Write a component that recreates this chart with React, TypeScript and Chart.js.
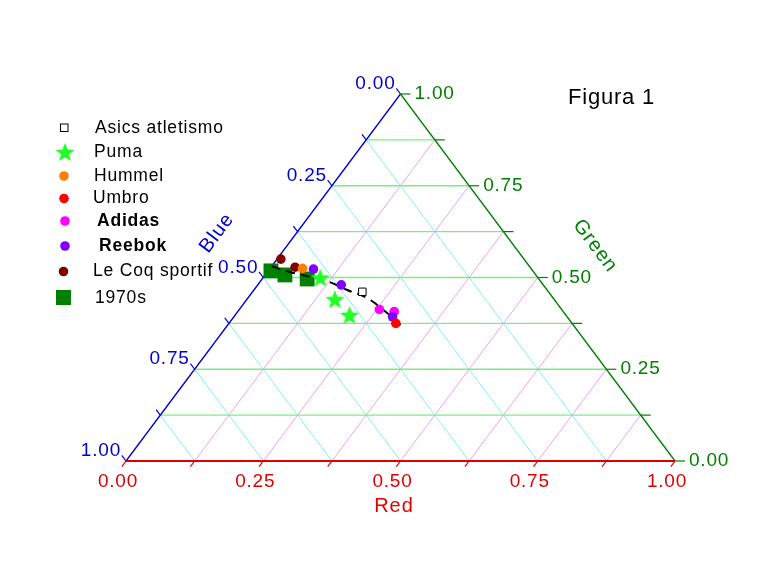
import React, { useEffect, useRef } from "react";
import { Chart, registerables } from "chart.js";

Chart.register(...registerables);

// Ternary values: [Red, Green, Blue]
type Tern = [number, number, number];

const asics: Tern[] = [[0.2, 0.461, 0.339]];
const puma: Tern[] = [
  [0.104, 0.5, 0.396],
  [0.16, 0.441, 0.399],
  [0.208, 0.398, 0.394],
];
const hummel: Tern[] = [[0.059, 0.525, 0.416]];
const umbro: Tern[] = [[0.304, 0.375, 0.321]];
const adidas: Tern[] = [
  [0.255, 0.413, 0.332],
  [0.285, 0.407, 0.308],
];
const reebok: Tern[] = [
  [0.08, 0.523, 0.397],
  [0.152, 0.48, 0.368],
  [0.289, 0.393, 0.318],
];
const leCoq: Tern[] = [
  [0.007, 0.55, 0.443],
  [0.044, 0.528, 0.428],
];
const seventies: Tern[] = [
  [0.005, 0.518, 0.477],
  [0.036, 0.507, 0.457],
  [0.082, 0.496, 0.422],
];
const trend: Tern[] = [
  [0.0, 0.531, 0.469],
  [0.041, 0.515, 0.444],
  [0.121, 0.49, 0.389],
  [0.17, 0.466, 0.364],
  [0.217, 0.444, 0.339],
  [0.264, 0.411, 0.325],
  [0.322, 0.365, 0.313],
];

const majorTicks = [0, 0.25, 0.5, 0.75, 1];
const majorLabels = ["0.00", "0.25", "0.50", "0.75", "1.00"];
const gridSteps = [0.125, 0.25, 0.375, 0.5, 0.625, 0.75, 0.875];
const allTicks = [0, 0.125, 0.25, 0.375, 0.5, 0.625, 0.75, 0.875, 1];

const legendNames = [
  "Asics atletismo",
  "Puma",
  "Hummel",
  "Umbro",
  "Adidas",
  "Reebok",
  "Le Coq sportif",
  "1970s",
];

const C_BLUE = "#0000cc";
const C_GREEN = "#007f00";
const C_RED = "#e00000";
const C_STAR = "#22ff22";

const toXY = (t: Tern) => {
  const s = t[0] + t[1] + t[2];
  const r = t[0] / s;
  const g = t[1] / s;
  return { x: r + g / 2, y: g };
};

function makeStar(R: number, color: string) {
  const c = document.createElement("canvas");
  const size = Math.ceil(R * 2 + 2);
  c.width = size;
  c.height = size;
  const ctx = c.getContext("2d")!;
  const cx = size / 2;
  const cy = size / 2 + R * 0.1;
  const r = R * 0.42;
  ctx.beginPath();
  for (let i = 0; i < 10; i++) {
    const a = -Math.PI / 2 + (i * Math.PI) / 5;
    const rr = i % 2 === 0 ? R : r;
    const x = cx + rr * Math.cos(a);
    const y = cy + rr * Math.sin(a);
    if (i === 0) ctx.moveTo(x, y);
    else ctx.lineTo(x, y);
  }
  ctx.closePath();
  ctx.fillStyle = color;
  ctx.fill();
  return c;
}

export default function App() {
  const ref = useRef<HTMLCanvasElement | null>(null);

  useEffect(() => {
    document.body.style.margin = "0";
    const canvas = ref.current;
    if (!canvas) return;
    const star = makeStar(10, C_STAR);

    const ternPlugin = {
      id: "ternary",
      beforeDatasetsDraw(chart: any) {
        const ctx: CanvasRenderingContext2D = chart.ctx;
        const xs = chart.scales.x;
        const ys = chart.scales.y;
        const P = (r: number, g: number, b: number) => {
          const p = toXY([r, g, b]);
          return [xs.getPixelForValue(p.x), ys.getPixelForValue(p.y)];
        };
        const line = (a: number[], b: number[], color: string, w: number) => {
          ctx.beginPath();
          ctx.moveTo(a[0], a[1]);
          ctx.lineTo(b[0], b[1]);
          ctx.strokeStyle = color;
          ctx.lineWidth = w;
          ctx.stroke();
        };
        const unit = (a: number[], b: number[]) => {
          const L = Math.hypot(b[0] - a[0], b[1] - a[1]);
          return [(b[0] - a[0]) / L, (b[1] - a[1]) / L];
        };
        ctx.save();
        // grid
        for (const f of gridSteps) {
          line(P(f, 0, 1 - f), P(f, 1 - f, 0), "#eea0f6", 1); // constant Red
          line(P(0, 1 - f, f), P(1 - f, 0, f), "#80f0f0", 1); // constant Blue
        }
        for (const f of gridSteps) {
          line(P(0, f, 1 - f), P(1 - f, f, 0), "#80ec80", 1.3); // constant Green
        }
        // axes
        line(P(0, 1, 0), P(0, 0, 1), C_BLUE, 1.3);
        line(P(0, 1, 0), P(1, 0, 0), C_GREEN, 1.3);
        line(P(0, 0, 1), P(1, 0, 0), C_RED, 2);

        // tick directions
        const dR = unit(P(0.5, 0.5, 0), P(0.5, 0, 0.5)); // down along constant-red
        const dB = unit(P(0.5, 0, 0.5), P(0, 0.5, 0.5)); // up-left along constant-blue
        for (const f of allTicks) {
          const rb = P(f, 0, 1 - f);
          line(rb, [rb[0] + dR[0] * 7, rb[1] + dR[1] * 7], C_RED, 1.2);
          const bl = P(0, 1 - f, f);
          line(bl, [bl[0] + dB[0] * 7, bl[1] + dB[1] * 7], C_BLUE, 1.2);
          const gr = P(1 - f, f, 0);
          line(gr, [gr[0] + 10, gr[1]], C_GREEN, 1.2);
        }

        // tick labels
        ctx.font = "19px 'Liberation Sans', Arial, sans-serif";
        (ctx as any).letterSpacing = "0.8px";
        ctx.textBaseline = "middle";
        majorTicks.forEach((f, i) => {
          const lab = majorLabels[i];
          const rb = P(f, 0, 1 - f);
          ctx.fillStyle = C_RED;
          ctx.textAlign = "center";
          ctx.fillText(lab, rb[0] - 8, 482);
          const bl = P(0, 1 - f, f);
          ctx.fillStyle = C_BLUE;
          ctx.textAlign = "right";
          ctx.fillText(lab, bl[0] - 5, bl[1] - 10);
          const gr = P(1 - f, f, 0);
          ctx.fillStyle = C_GREEN;
          ctx.textAlign = "left";
          ctx.fillText(lab, gr[0] + 14, gr[1]);
        });

        // axis titles
        const ang = Math.atan2(367, 274.5);
        ctx.font = "20px 'Liberation Sans', Arial, sans-serif";
        (ctx as any).letterSpacing = "1px";
        ctx.textAlign = "center";
        ctx.fillStyle = C_RED;
        ctx.fillText("Red", 394, 506);
        ctx.save();
        ctx.translate(217, 233);
        ctx.rotate(-ang);
        ctx.fillStyle = C_BLUE;
        ctx.fillText("Blue", 0, 0);
        ctx.restore();
        ctx.save();
        ctx.translate(595, 246);
        ctx.rotate(ang);
        ctx.fillStyle = C_GREEN;
        ctx.fillText("Green", 0, 0);
        ctx.restore();

        // title
        ctx.font = "22px 'Liberation Sans', Arial, sans-serif";
        (ctx as any).letterSpacing = "0.8px";
        ctx.textAlign = "left";
        ctx.fillStyle = "#000";
        ctx.fillText("Figura 1", 568, 98);
        ctx.restore();
      },
      afterDraw(chart: any) {
        const ctx: CanvasRenderingContext2D = chart.ctx;
        ctx.save();
        const rows = [
          { y: 128, tx: 95, bold: false },
          { y: 152, tx: 94, bold: false },
          { y: 176.5, tx: 94, bold: false },
          { y: 198.5, tx: 93, bold: false },
          { y: 221.5, tx: 97, bold: true },
          { y: 246, tx: 99, bold: true },
          { y: 271.5, tx: 93, bold: false },
          { y: 298, tx: 95, bold: false },
        ];
        const circ = (x: number, y: number, r: number, c: string) => {
          ctx.beginPath();
          ctx.arc(x, y, r, 0, Math.PI * 2);
          ctx.fillStyle = c;
          ctx.fill();
        };
        // markers
        ctx.fillStyle = "#fff";
        ctx.fillRect(60, 123.5, 8, 8);
        ctx.strokeStyle = "#000";
        ctx.lineWidth = 1;
        ctx.strokeRect(60.5, 124, 7.5, 7.5);
        ctx.drawImage(star, 65 - star.width / 2, 152 - star.height / 2);
        circ(64, 176, 4.8, "#ff8000");
        circ(64, 198.5, 4.8, "#ff0000");
        circ(65, 221, 4.8, "#ff00ff");
        circ(65, 246, 4.8, "#8000ff");
        circ(63.5, 271.5, 4.8, "#800000");
        ctx.fillStyle = "#008000";
        ctx.fillRect(56, 290, 15, 15);
        // text
        ctx.textBaseline = "middle";
        ctx.textAlign = "left";
        ctx.fillStyle = "#000";
        rows.forEach((r, i) => {
          ctx.font = (r.bold ? "bold 17.5px " : "17.5px ") + "'Liberation Sans', Arial, sans-serif";
          (ctx as any).letterSpacing = r.bold ? "0.8px" : "0.8px";
          ctx.fillText(legendNames[i], r.tx, r.y);
        });
        ctx.restore();
      },
    };

    const pts = (arr: Tern[]) => arr.map(toXY);

    const chart = new Chart(canvas, {
      type: "scatter",
      data: {
        datasets: [
          {
            label: "Umbro",
            data: pts(umbro),
            backgroundColor: "#ff0000",
            borderColor: "#ff0000",
            pointRadius: 4.8,
            borderWidth: 0,
            order: 1,
          },
          {
            label: "Reebok",
            data: pts(reebok),
            backgroundColor: "#8000ff",
            borderColor: "#8000ff",
            pointRadius: 4.8,
            borderWidth: 0,
            order: 2,
          },
          {
            label: "Adidas",
            data: pts(adidas),
            backgroundColor: "#ff00ff",
            borderColor: "#ff00ff",
            pointRadius: 4.8,
            borderWidth: 0,
            order: 3,
          },
          {
            label: "Hummel",
            data: pts(hummel),
            backgroundColor: "#ff8000",
            borderColor: "#ff8000",
            pointRadius: 4.8,
            borderWidth: 0,
            order: 4,
          },
          {
            label: "Le Coq sportif",
            data: pts(leCoq),
            backgroundColor: "#800000",
            borderColor: "#800000",
            pointRadius: 4.8,
            borderWidth: 0,
            order: 5,
          },
          {
            label: "Puma",
            data: pts(puma),
            pointStyle: star as any,
            pointRadius: 10,
            order: 6,
          },
          {
            label: "Asics atletismo",
            data: pts(asics),
            pointStyle: "rect",
            pointRadius: 5.3,
            backgroundColor: "#ffffff",
            borderColor: "#000000",
            borderWidth: 1,
            order: 7,
          },
          {
            label: "trend",
            data: pts(trend),
            showLine: true,
            borderColor: "#000000",
            borderWidth: 2,
            borderDash: [9, 6],
            pointRadius: 0,
            tension: 0.4,
            order: 8,
          },
          {
            label: "1970s",
            data: pts(seventies),
            pointStyle: "rect",
            pointRadius: 10.5,
            backgroundColor: "#008000",
            borderColor: "#008000",
            borderWidth: 0,
            order: 9,
          },
        ] as any,
      },
      options: {
        animation: false,
        responsive: false,
        devicePixelRatio: 1,
        layout: { padding: { left: 126, right: 95, top: 94, bottom: 102 } },
        scales: {
          x: { type: "linear", min: 0, max: 1, display: false },
          y: { type: "linear", min: 0, max: 1, display: false },
        },
        elements: { point: { hoverRadius: 5 } },
        plugins: {
          legend: { display: false },
          tooltip: { enabled: false },
        },
        datasets: { scatter: { clip: false } as any },
      } as any,
      plugins: [ternPlugin],
    });

    return () => chart.destroy();
  }, []);

  return (
    <div style={{ width: 770, height: 563, background: "#fff" }}>
      <canvas ref={ref} width={770} height={563} style={{ display: "block", width: 770, height: 563 }} />
    </div>
  );
}
